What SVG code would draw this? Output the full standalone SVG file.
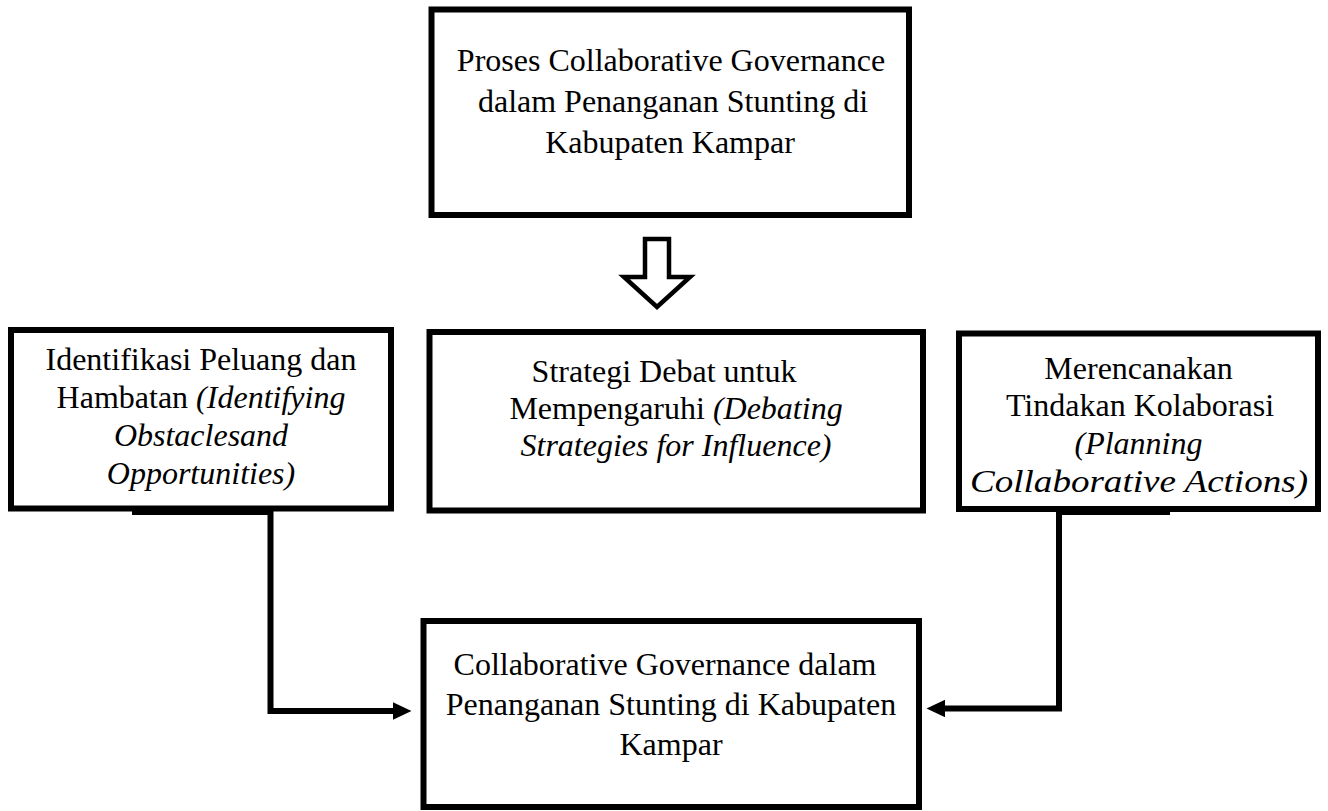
<svg xmlns="http://www.w3.org/2000/svg" width="1328" height="811" viewBox="0 0 1328 811">
<defs>
<style>
.box{fill:#fff;stroke:#000;stroke-width:6}
.t{font-family:"Liberation Serif","Times New Roman",serif;font-size:32px;fill:#000;text-anchor:middle}
.i{font-style:italic}
.con{fill:none;stroke:#000;stroke-width:6}
.stub{fill:#000}
</style>
<marker id="ah" markerUnits="userSpaceOnUse" markerWidth="19" markerHeight="18" refX="0" refY="8.7" orient="auto">
<path d="M0,0 L18.5,8.7 L0,17.4 Z" fill="#000"/>
</marker>
</defs>
<rect width="1328" height="811" fill="#fff"/>

<g id="node-proses">
<rect class="box" x="431.5" y="9.5" width="477.5" height="205.5"/>
<text class="t" x="671" y="71">Proses Collaborative Governance</text>
<text class="t" x="673" y="112">dalam Penanganan Stunting di</text>
<text class="t" x="670" y="153">Kabupaten Kampar</text>
</g>

<g id="node-block-arrow">
<polygon points="645,239 669,239 669,277 690,277 657,307 624,277 645,277" fill="#fff" stroke="#000" stroke-width="4.5" stroke-linejoin="miter"/>
</g>

<g id="node-identifikasi">
<rect class="box" x="11" y="330" width="380" height="178.5"/>
<text class="t" x="201" y="370">Identifikasi Peluang dan</text>
<text class="t" x="201" y="408">Hambatan <tspan class="i">(Identifying</tspan></text>
<text class="t i" x="201" y="446">Obstaclesand</text>
<text class="t i" x="201" y="484">Opportunities)</text>
</g>

<g id="node-strategi">
<rect class="box" x="429.5" y="332" width="493.5" height="178.5"/>
<text class="t" x="664" y="382">Strategi Debat untuk</text>
<text class="t" x="676" y="419">Mempengaruhi <tspan class="i">(Debating</tspan></text>
<text class="t i" x="676" y="456">Strategies for Influence)</text>
</g>

<g id="node-merencanakan">
<rect class="box" x="959" y="333.5" width="359" height="175.5"/>
<text class="t" x="1138.5" y="379" font-size="33">Merencanakan</text>
<text class="t" x="1140" y="416" font-size="33">Tindakan Kolaborasi</text>
<text class="t i" x="1138.5" y="454" font-size="33">(Planning</text>
<text class="t i" x="1139" y="492" font-size="33" textLength="338" lengthAdjust="spacingAndGlyphs">Collaborative Actions)</text>
</g>

<g id="node-collaborative">
<rect class="box" x="423.5" y="621" width="495.5" height="186"/>
<text class="t" x="665" y="675">Collaborative Governance dalam</text>
<text class="t" x="671" y="715">Penanganan Stunting di Kabupaten</text>
<text class="t" x="671" y="755">Kampar</text>
</g>

<g id="connectors">
<rect class="stub" x="132" y="511" width="141" height="4"/>
<path class="con" d="M270.5,511 V711 H393" marker-end="url(#ah)"/>
<rect class="stub" x="1057" y="511.5" width="113" height="3.5"/>
<path class="con" d="M1059,512 V708.5 H945" marker-end="url(#ah)"/>
</g>
</svg>
